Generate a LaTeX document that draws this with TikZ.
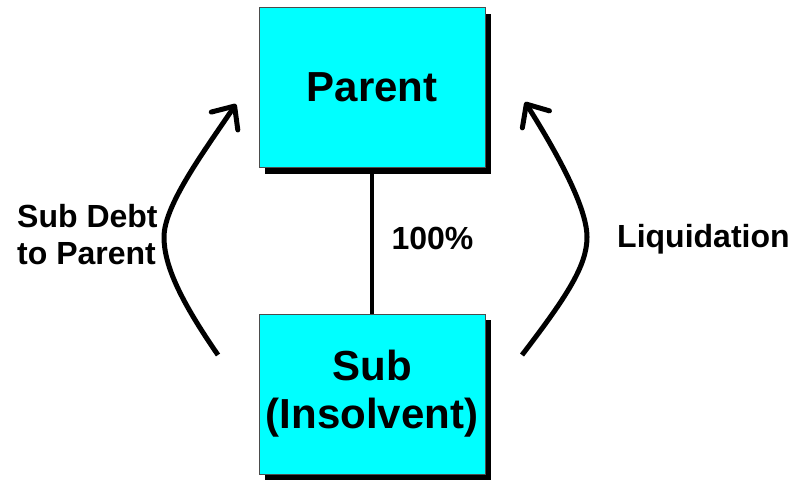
\documentclass[tikz,border=0pt]{standalone}
\usepackage{fontspec}
\setmainfont{Liberation Sans}
\usetikzlibrary{arrows.meta,shadows}
\definecolor{boxcyan}{RGB}{0,255,255}
\begin{document}
\begin{tikzpicture}[x=1pt,y=-1pt,
  box/.style={draw=black!70,line width=1pt,fill=boxcyan,minimum width=226pt,minimum height=160pt,
    inner sep=0pt,align=center,font=\fontsize{42}{48}\selectfont\bfseries,
    drop shadow={shadow xshift=6pt,shadow yshift=-6pt,fill=black,opacity=1}},
  lbl/.style={inner sep=0pt,font=\fontsize{32}{37}\selectfont\bfseries},
  flow/.style={line width=5pt,-{Straight Barb[length=18pt,width=32pt,round]}}]
\useasboundingbox (0,0) rectangle (792,480);
\node[box] (parent) at (372,87.5) {Parent};
\node[box] (sub) at (372,394) {Sub\\(Insolvent)};
\draw[line width=3.5pt] (parent.south) -- (sub.north);
\node[lbl,anchor=base] (pct) at (432.5,249) {100\%};
\node[lbl,anchor=west,align=left] (sdp) at (17,235) {Sub Debt\\to Parent};
\node[lbl,anchor=base west] (liq) at (617,247) {Liquidation};
\coordinate (ls) at (218,355);
\coordinate (lm) at (164,237);
\coordinate (lt) at (236,104);
\coordinate (rs) at (522,355);
\coordinate (rm) at (587,237);
\coordinate (rt) at (525,102);
\draw[flow] (ls) .. controls (180,300) and (164,265) .. (lm) .. controls (164,205) and (205,150) .. (lt);
\draw[flow] (rs) .. controls (568,295) and (587,265) .. (rm) .. controls (587,205) and (552,145) .. (rt);
\end{tikzpicture}
\end{document}
